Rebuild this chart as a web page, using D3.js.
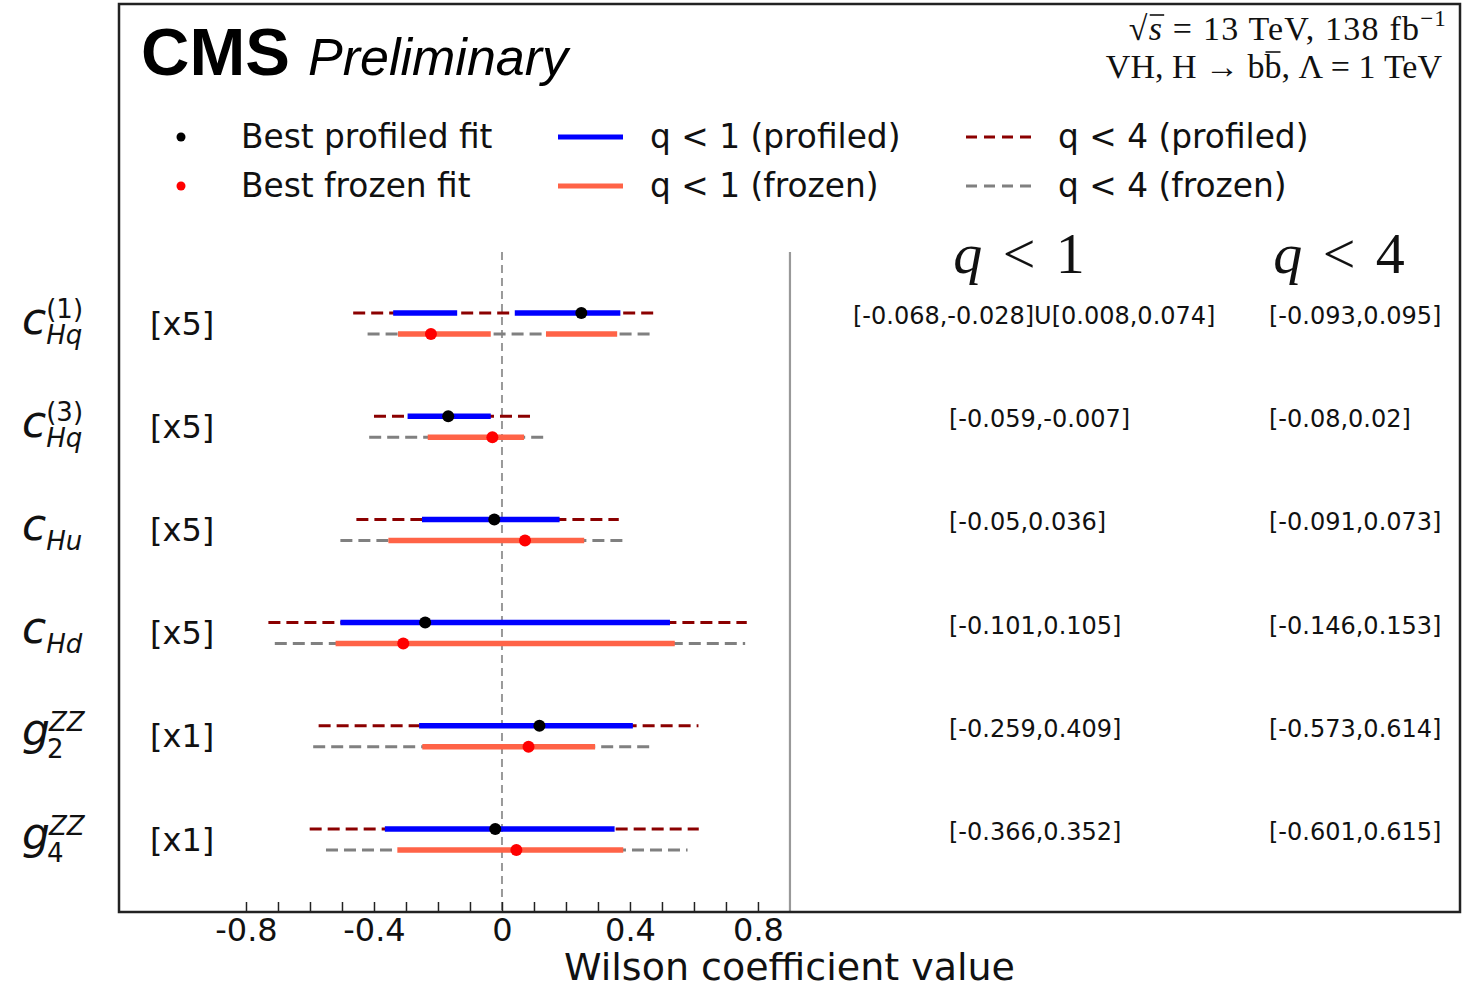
<!DOCTYPE html>
<html>
<head>
<meta charset="utf-8">
<script src="https://cdn.jsdelivr.net/npm/d3@7"></script>
<style>
  html, body { margin: 0; padding: 0; background: #fff; }
  svg { display: block; }
</style>
</head>
<body>
<svg id="chart" width="1471" height="986"></svg>
<script>
// ---------------- data ----------------
const params     = ["cHq1", "cHq3", "cHu", "cHd", "g2ZZ", "g4ZZ"];
const labelMain  = ["c", "c", "c", "c", "g", "g"];
const labelSub   = ["Hq", "Hq", "Hu", "Hd", "2", "4"];
const labelSup   = ["(1)", "(3)", "", "", "ZZ", "ZZ"];
const scaleFactors = [5, 5, 5, 5, 1, 1];

const profiledBest = [0.0496, -0.0336, -0.0048, -0.048, 0.117, -0.021];
const frozenBest   = [-0.0444, -0.006, 0.0144, -0.0617, 0.083, 0.045];

const profiledQ1 = [
  [[-0.068, -0.028], [0.008, 0.074]],
  [[-0.059, -0.007]],
  [[-0.05, 0.036]],
  [[-0.101, 0.105]],
  [[-0.259, 0.409]],
  [[-0.366, 0.352]]
];
const profiledQ4 = [[-0.093, 0.095], [-0.08, 0.02], [-0.091, 0.073], [-0.146, 0.153], [-0.573, 0.614], [-0.601, 0.615]];
const frozenQ1 = [
  [[-0.065, -0.007], [0.0275, 0.072]],
  [[-0.0464, 0.0138]],
  [[-0.071, 0.0514]],
  [[-0.104, 0.108]],
  [[-0.249, 0.291]],
  [[-0.327, 0.379]]
];
const frozenQ4 = [[-0.084, 0.094], [-0.083, 0.027], [-0.101, 0.0775], [-0.142, 0.152], [-0.590, 0.468], [-0.55, 0.580]];

const q1Text = ["[-0.068,-0.028]U[0.008,0.074]", "[-0.059,-0.007]", "[-0.05,0.036]", "[-0.101,0.105]", "[-0.259,0.409]", "[-0.366,0.352]"];
const q4Text = ["[-0.093,0.095]", "[-0.08,0.02]", "[-0.091,0.073]", "[-0.146,0.153]", "[-0.573,0.614]", "[-0.601,0.615]"];

const majorTicks = [-0.8, -0.4, 0, 0.4, 0.8];
const majorTickLabels = ["-0.8", "-0.4", "0", "0.4", "0.8"];
const minorTicks = [-0.8, -0.7, -0.6, -0.5, -0.4, -0.3, -0.2, -0.1, 0, 0.1, 0.2, 0.3, 0.4, 0.5, 0.6, 0.7, 0.8];
const separatorValue = 0.9;

const legendLabels = ["Best profiled fit", "Best frozen fit", "q < 1 (profiled)", "q < 1 (frozen)", "q < 4 (profiled)", "q < 4 (frozen)"];

// ---------------- layout ----------------
const svg = d3.select("#chart");
const frame = {left: 119, right: 1460, top: 4, bottom: 912};
const x = d3.scaleLinear().domain([-1.2, 2.994]).range([118, 1460]);
const y = d3.scalePoint().domain(params).range([323.5, 839.5]);
const off = 10.5;

const C = {
  blue: "#0000ff", tomato: "#ff6347", darkred: "#8b0000", gray: "#808080",
  red: "#ff0000", black: "#000000"
};
const sans = "'DejaVu Sans', sans-serif";
const serif = "'Liberation Serif', 'DejaVu Serif', serif";

// reference lines
svg.append("line")
  .attr("x1", x(0)).attr("x2", x(0)).attr("y1", 252).attr("y2", frame.bottom)
  .attr("stroke", "#999").attr("stroke-width", 2).attr("stroke-dasharray", "8,5");
svg.append("line")
  .attr("x1", x(separatorValue)).attr("x2", x(separatorValue)).attr("y1", 252).attr("y2", frame.bottom)
  .attr("stroke", "#999").attr("stroke-width", 2.2);

// rows
const rows = params.map((p, i) => ({p, i, s: scaleFactors[i]}));
const g = svg.append("g");

rows.forEach(r => {
  const yc = y(r.p), s = r.s;
  // q<4 dashed
  g.append("line")
    .attr("x1", x(profiledQ4[r.i][0] * s)).attr("x2", x(profiledQ4[r.i][1] * s))
    .attr("y1", yc - off).attr("y2", yc - off)
    .attr("stroke", C.darkred).attr("stroke-width", 3).attr("stroke-dasharray", "12,6");
  g.append("line")
    .attr("x1", x(frozenQ4[r.i][0] * s)).attr("x2", x(frozenQ4[r.i][1] * s))
    .attr("y1", yc + off).attr("y2", yc + off)
    .attr("stroke", C.gray).attr("stroke-width", 3).attr("stroke-dasharray", "12,6");
  // q<1 solid
  profiledQ1[r.i].forEach(iv => {
    g.append("line")
      .attr("x1", x(iv[0] * s)).attr("x2", x(iv[1] * s))
      .attr("y1", yc - off).attr("y2", yc - off)
      .attr("stroke", C.blue).attr("stroke-width", 5.5);
  });
  frozenQ1[r.i].forEach(iv => {
    g.append("line")
      .attr("x1", x(iv[0] * s)).attr("x2", x(iv[1] * s))
      .attr("y1", yc + off).attr("y2", yc + off)
      .attr("stroke", C.tomato).attr("stroke-width", 5.5);
  });
  // best fits
  g.append("circle").attr("cx", x(profiledBest[r.i] * s)).attr("cy", yc - off).attr("r", 6).attr("fill", C.black);
  g.append("circle").attr("cx", x(frozenBest[r.i] * s)).attr("cy", yc + off).attr("r", 6).attr("fill", C.red);

  // scale label
  svg.append("text").attr("x", 150).attr("y", yc).attr("dominant-baseline", "central")
    .attr("font-family", sans).attr("font-size", 32).attr("fill", "#111")
    .text("[x" + s + "]");

  // interval texts
  const t1 = q1Text[r.i];
  svg.append("text").attr("x", t1.indexOf("U") >= 0 ? 853 : 949).attr("y", yc - off + 3)
    .attr("dominant-baseline", "central")
    .attr("font-family", sans).attr("font-size", 24).attr("fill", "#111").text(t1);
  svg.append("text").attr("x", 1269).attr("y", yc - off + 3)
    .attr("dominant-baseline", "central")
    .attr("font-family", sans).attr("font-size", 24).attr("fill", "#111").text(q4Text[r.i]);

  // y labels (math-like)
  const isG = labelMain[r.i] === "g";
  const mainT = svg.append("text").attr("x", 22).attr("y", yc + (isG ? 9 : 10))
    .attr("font-family", sans).attr("font-style", "italic").attr("font-size", 44).attr("fill", "#111")
    .text(labelMain[r.i]);
  const w = mainT.node().getComputedTextLength();
  const isDigitSub = /^[0-9]$/.test(labelSub[r.i]);
  const sx = 22 + w + (isG ? -3 : 0);
  svg.append("text").attr("x", sx).attr("y", yc + (isG ? 22 : 20))
    .attr("font-family", sans).attr("font-style", isDigitSub ? "normal" : "italic")
    .attr("font-size", 26).attr("fill", "#111").text(labelSub[r.i]);
  if (labelSup[r.i]) {
    const isParen = labelSup[r.i].startsWith("(");
    svg.append("text").attr("x", sx + (isG ? 2 : 0)).attr("y", yc - (isParen ? 6 : 5))
      .attr("font-family", sans).attr("font-style", isParen ? "normal" : "italic")
      .attr("font-size", 26).attr("fill", "#111").text(labelSup[r.i]);
  }
});

// frame
svg.append("rect")
  .attr("x", frame.left).attr("y", frame.top)
  .attr("width", frame.right - frame.left).attr("height", frame.bottom - frame.top)
  .attr("fill", "none").attr("stroke", "#222").attr("stroke-width", 2.5);

// x axis: minor (no labels) and major (labels)
const axisMinor = d3.axisBottom(x).tickValues(minorTicks).tickSizeInner(-10).tickSizeOuter(0).tickFormat("");
const gMinor = svg.append("g").attr("transform", `translate(0,${frame.bottom})`).call(axisMinor);
gMinor.select(".domain").remove();
gMinor.selectAll(".tick line").attr("stroke", "#222").attr("stroke-width", 1.5);

const axisMajor = d3.axisBottom(x).tickValues(majorTicks).tickSizeInner(0).tickSizeOuter(0).tickPadding(6)
  .tickFormat((d, i) => majorTickLabels[i]);
const gMajor = svg.append("g").attr("transform", `translate(0,${frame.bottom})`).call(axisMajor);
gMajor.select(".domain").remove();
gMajor.selectAll(".tick line").remove();
gMajor.selectAll(".tick text").attr("font-family", sans).attr("font-size", 32).attr("fill", "#111");

svg.append("text").attr("x", (frame.left + frame.right) / 2).attr("y", 980)
  .attr("text-anchor", "middle").attr("font-family", sans).attr("font-size", 38).attr("fill", "#111")
  .text("Wilson coefficient value");

// CMS label
svg.append("text").attr("x", 141).attr("y", 75)
  .attr("font-family", "'Liberation Sans', Arial, sans-serif").attr("font-weight", "bold")
  .attr("font-size", 67).attr("fill", "#000").text("CMS");
svg.append("text").attr("x", 308).attr("y", 75)
  .attr("font-family", "'Liberation Sans', Arial, sans-serif").attr("font-style", "italic")
  .attr("font-size", 52).attr("fill", "#000").text("Preliminary");

// top-right info
function overbar(textSel, idx, dy, x0, x1) {
  const n = textSel.node();
  const b = n.getExtentOfChar(idx);
  svg.append("line").attr("x1", b.x + (x0 || 1)).attr("x2", b.x + b.width - (x1 || 1))
    .attr("y1", b.y + dy).attr("y2", b.y + dy).attr("stroke", "#111").attr("stroke-width", 1.6);
}
const l1 = svg.append("text").attr("x", 1447).attr("y", 40).attr("text-anchor", "end")
  .attr("font-family", serif).attr("font-size", 34).attr("letter-spacing", 1.2).attr("fill", "#111");
l1.append("tspan").text("\u221A");
l1.append("tspan").attr("font-style", "italic").text("s");
l1.append("tspan").text(" = 13 TeV, 138 fb");
l1.append("tspan").attr("dy", -14).attr("font-size", 23).text("\u22121");
overbar(l1, 1, 5, 0, -1);

const l2 = svg.append("text").attr("x", 1442).attr("y", 78).attr("text-anchor", "end")
  .attr("font-family", serif).attr("font-size", 34).attr("fill", "#111")
  .text("VH, H \u2192 bb, \u039B = 1 TeV");
overbar(l2, 9, 4);

// column headers
[["1", 1019], ["4", 1339]].forEach(([n, cx]) => {
  const t = svg.append("text").attr("x", cx).attr("y", 273).attr("text-anchor", "middle")
    .attr("font-family", serif).attr("font-size", 58).attr("fill", "#111");
  t.append("tspan").attr("font-style", "italic").text("q");
  t.append("tspan").attr("dx", 6).text(" <");
  t.append("tspan").attr("dx", 6).text(" " + n);
});

// legend
const legendItems = [
  {type: "dot", color: C.black, lx: 181, ly: 137},
  {type: "dot", color: C.red, lx: 181, ly: 186},
  {type: "line", color: C.blue, lx: 558, ly: 137},
  {type: "line", color: C.tomato, lx: 558, ly: 186},
  {type: "dash", color: C.darkred, lx: 966, ly: 137},
  {type: "dash", color: C.gray, lx: 966, ly: 186}
];
const textX = [241, 241, 650, 650, 1058, 1058];
legendItems.forEach((it, i) => {
  if (it.type === "dot") {
    svg.append("circle").attr("cx", it.lx).attr("cy", it.ly).attr("r", 4.5).attr("fill", it.color);
  } else {
    svg.append("line").attr("x1", it.lx).attr("x2", it.lx + 65).attr("y1", it.ly).attr("y2", it.ly)
      .attr("stroke", it.color).attr("stroke-width", it.type === "line" ? 5 : 3)
      .attr("stroke-dasharray", it.type === "dash" ? "11,7" : null);
  }
  svg.append("text").attr("x", textX[i]).attr("y", it.ly).attr("dominant-baseline", "central")
    .attr("font-family", sans).attr("font-size", 32.8).attr("fill", "#111").text(legendLabels[i]);
});
</script>
</body>
</html>
